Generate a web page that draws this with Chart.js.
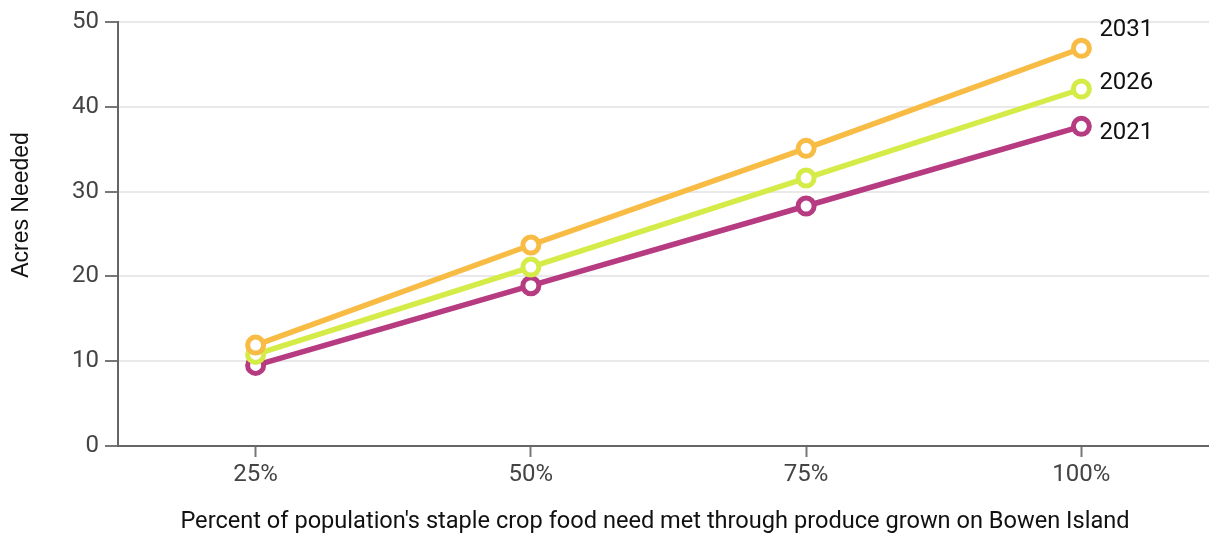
<!DOCTYPE html>
<html>
<head>
<meta charset="utf-8">
<script src="https://cdn.jsdelivr.net/npm/chart.js@4.4.1/dist/chart.umd.min.js"></script>
<style>
  html, body { margin: 0; padding: 0; background: #fff; overflow: hidden; }
  #chart { display: block; }
</style>
</head>
<body>
<canvas id="chart" width="1232" height="536" style="width:1232px;height:536px"></canvas>
<script>
// Share of staple-crop need met locally
const categories = ['25%', '50%', '75%', '100%'];
// Acres needed per projection year
const years = ['2031', '2026', '2021'];
const acres2031 = [11.9, 23.7, 35.1, 46.9];
const acres2026 = [10.8, 21.1, 31.6, 42.1];
const acres2021 = [9.5, 18.9, 28.3, 37.7];
const yTicks = [0, 10, 20, 30, 40, 50];

const xTitle = "Percent of population's staple crop food need met through produce grown on Bowen Island";
const yTitle = 'Acres Needed';

const colors = { '2031': '#F8BC45', '2026': '#D5EB48', '2021': '#B63B80' };
const seriesValues = { '2031': acres2031, '2026': acres2026, '2021': acres2021 };
// vertical nudges for the end-of-line year labels so they don't collide
const labelNudge = { '2031': -18, '2026': -6, '2021': 7 };

const FONT = 'Roboto';

const annotations = {
  id: 'annotations',
  afterDraw(chart) {
    const ctx = chart.ctx;
    ctx.save();
    // year labels at the end of each line
    ctx.font = '24px ' + FONT;
    ctx.fillStyle = '#111';
    ctx.textBaseline = 'middle';
    ctx.textAlign = 'left';
    chart.data.datasets.forEach((ds, i) => {
      const meta = chart.getDatasetMeta(i);
      const pt = meta.data[meta.data.length - 1];
      ctx.fillText(ds.label, pt.x + 18, pt.y + labelNudge[ds.label]);
    });
    // axis titles
    ctx.textAlign = 'center';
    ctx.font = '23.6px ' + FONT;
    ctx.fillText(xTitle, 655, 522);
    ctx.translate(22, 205);
    ctx.rotate(-Math.PI / 2);
    ctx.font = '23px "Liberation Sans", Arial, sans-serif';
    ctx.fillText(yTitle, 0, 0);
    ctx.restore();
  }
};

new Chart(document.getElementById('chart'), {
  type: 'line',
  data: {
    labels: categories,
    datasets: years.map(y => ({
      label: y,
      data: seriesValues[y],
      borderColor: colors[y],
      backgroundColor: '#ffffff',
      pointBackgroundColor: '#ffffff',
      pointBorderColor: colors[y],
      pointBorderWidth: 5,
      pointRadius: 8,
      pointHoverRadius: 8,
      borderWidth: 5.5,
      tension: 0,
      clip: false
    }))
  },
  options: {
    responsive: false,
    animation: false,
    events: [],
    layout: { padding: { top: 22, left: 0, right: 0, bottom: 0 } },
    plugins: { legend: { display: false }, tooltip: { enabled: false } },
    scales: {
      x: {
        offset: true,
        grid: { drawOnChartArea: false, drawTicks: true, tickLength: 11, tickColor: '#777', tickWidth: 2 },
        border: { display: true, color: '#666', width: 2 },
        ticks: { color: '#444', font: { family: FONT, size: 24 }, padding: 4 },
        afterFit(scale) { scale.height = 90; }
      },
      y: {
        min: 0,
        max: 50,
        afterBuildTicks(scale) { scale.ticks = yTicks.map(v => ({ value: v })); },
        grid: { color: '#e9e9e9', lineWidth: 2, drawTicks: true, tickLength: 13, tickColor: '#777', tickWidth: 2 },
        border: { display: true, color: '#666', width: 2 },
        ticks: { color: '#444', font: { family: FONT, size: 24 }, padding: 6 },
        afterFit(scale) { scale.width = 118; }
      }
    }
  },
  plugins: [annotations]
});
</script>
</body>
</html>
